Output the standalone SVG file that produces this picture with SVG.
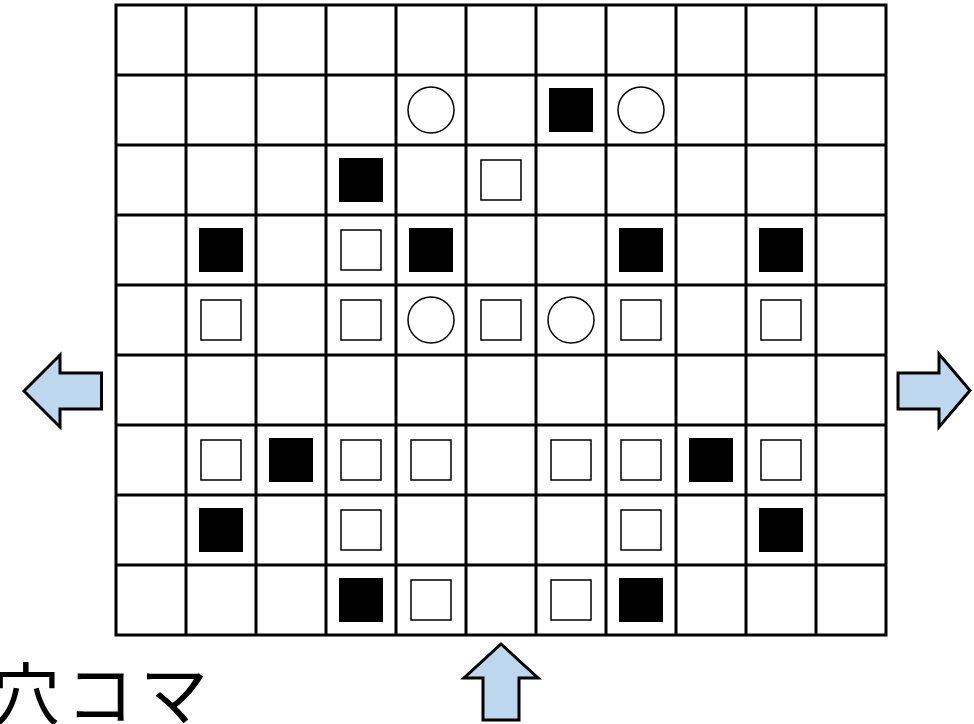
<svg xmlns="http://www.w3.org/2000/svg" xmlns:xlink="http://www.w3.org/1999/xlink" width="974" height="724" viewBox="0 0 974 724">
<style>
.grid{stroke:#000;stroke-width:3;fill:none}
.wsq{fill:#fff;stroke:#000;stroke-width:1.5}
.bsq{fill:#000}
.circ{fill:#fff;stroke:#000;stroke-width:1.5}
.arrow{fill:#BDD7EE;stroke:#000;stroke-width:3;stroke-linejoin:miter}
.label{font-family:"Noto Sans CJK JP","Noto Sans",sans-serif;font-size:68px;fill:#000;letter-spacing:6px}
</style>
<defs>
<rect id="W" class="wsq" x="-20" y="-20" width="40" height="40"/>
<rect id="B" class="bsq" x="-22" y="-22" width="44" height="44"/>
<circle id="C" class="circ" r="23"/>
</defs>
<rect width="974" height="724" fill="#fff"/>
<g id="board" class="grid">
<rect x="116" y="5" width="770" height="630"/>
<path d="M186 5V635M256 5V635M326 5V635M396 5V635M466 5V635M536 5V635M606 5V635M676 5V635M746 5V635M816 5V635"/>
<path d="M116 75H886M116 145H886M116 215H886M116 285H886M116 355H886M116 425H886M116 495H886M116 565H886"/>
</g>
<g id="pieces">
<g id="r1c4"><use xlink:href="#C" x="431" y="110"/></g>
<g id="r1c6"><use xlink:href="#B" x="571" y="110"/></g>
<g id="r1c7"><use xlink:href="#C" x="641" y="110"/></g>
<g id="r2c3"><use xlink:href="#B" x="361" y="180"/></g>
<g id="r2c5"><use xlink:href="#W" x="501" y="180"/></g>
<g id="r3c1"><use xlink:href="#B" x="221" y="250"/></g>
<g id="r3c3"><use xlink:href="#W" x="361" y="250"/></g>
<g id="r3c4"><use xlink:href="#B" x="431" y="250"/></g>
<g id="r3c7"><use xlink:href="#B" x="641" y="250"/></g>
<g id="r3c9"><use xlink:href="#B" x="781" y="250"/></g>
<g id="r4c1"><use xlink:href="#W" x="221" y="320"/></g>
<g id="r4c3"><use xlink:href="#W" x="361" y="320"/></g>
<g id="r4c4"><use xlink:href="#C" x="431" y="320"/></g>
<g id="r4c5"><use xlink:href="#W" x="501" y="320"/></g>
<g id="r4c6"><use xlink:href="#C" x="571" y="320"/></g>
<g id="r4c7"><use xlink:href="#W" x="641" y="320"/></g>
<g id="r4c9"><use xlink:href="#W" x="781" y="320"/></g>
<g id="r6c1"><use xlink:href="#W" x="221" y="460"/></g>
<g id="r6c2"><use xlink:href="#B" x="291" y="460"/></g>
<g id="r6c3"><use xlink:href="#W" x="361" y="460"/></g>
<g id="r6c4"><use xlink:href="#W" x="431" y="460"/></g>
<g id="r6c6"><use xlink:href="#W" x="571" y="460"/></g>
<g id="r6c7"><use xlink:href="#W" x="641" y="460"/></g>
<g id="r6c8"><use xlink:href="#B" x="711" y="460"/></g>
<g id="r6c9"><use xlink:href="#W" x="781" y="460"/></g>
<g id="r7c1"><use xlink:href="#B" x="221" y="530"/></g>
<g id="r7c3"><use xlink:href="#W" x="361" y="530"/></g>
<g id="r7c7"><use xlink:href="#W" x="641" y="530"/></g>
<g id="r7c9"><use xlink:href="#B" x="781" y="530"/></g>
<g id="r8c3"><use xlink:href="#B" x="361" y="600"/></g>
<g id="r8c4"><use xlink:href="#W" x="431" y="600"/></g>
<g id="r8c6"><use xlink:href="#W" x="571" y="600"/></g>
<g id="r8c7"><use xlink:href="#B" x="641" y="600"/></g>
</g>
<g id="arrow-left"><polygon class="arrow" points="24,391 60,355 60,373 101.5,373 101.5,409 60,409 60,427"/></g>
<g id="arrow-right"><polygon class="arrow" points="898,373 939,373 939,354 970,390.5 939,427 939,409 898,409"/></g>
<g id="arrow-up"><polygon class="arrow" points="501,644 538,678 519,678 519,720 483,720 483,678 464,678"/></g>
<g id="caption"><text class="label" x="-8" y="720">穴コマ</text></g>
</svg>
